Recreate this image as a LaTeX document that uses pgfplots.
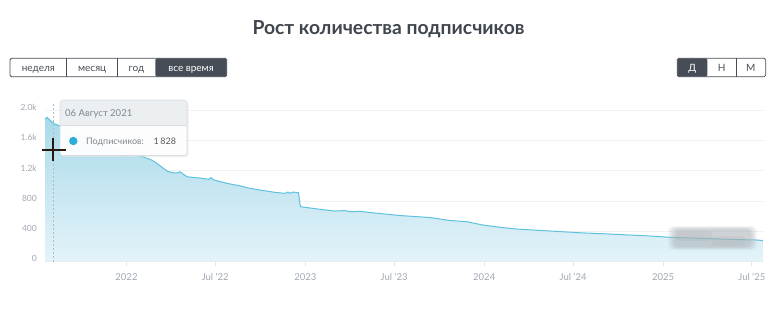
\documentclass[border=0pt]{standalone}
\usepackage{fontspec}
\setmainfont{Lato}
\usepackage{pgfplots}
\usepackage{pgfplotstable}
\pgfplotsset{compat=1.18}
\definecolor{titleC}{HTML}{40464E}
\definecolor{btnDark}{HTML}{474D56}
\definecolor{btnText}{HTML}{4A4F57}
\definecolor{lblC}{HTML}{A2A9B3}
\definecolor{gridC}{HTML}{F1F2F3}
\definecolor{axisC}{HTML}{E3E6E9}
\definecolor{lineC}{HTML}{5EC2DF}
\definecolor{fillTop}{HTML}{A9DAEA}
\definecolor{fillBot}{HTML}{E4F3F9}
\definecolor{ttHead}{HTML}{ECEFF1}
\definecolor{ttBorder}{HTML}{DADDE0}
\definecolor{ttText}{HTML}{80868C}
\definecolor{dotC}{HTML}{2BAED8}
\definecolor{cursorC}{HTML}{2A1710}
\definecolor{blurC}{HTML}{AEB6BA}

\pgfplotstableread{
x y
2021.5444 1882
2021.5556 1905
2021.5724 1869
2021.5892 1828
2021.6283 1790
2021.7121 1700
2021.7960 1610
2021.8798 1520
2021.9637 1455
2022.0475 1410
2022.0922 1384
2022.1409 1341
2022.1705 1297
2022.2040 1235
2022.2320 1190
2022.2599 1173
2022.2879 1173
2022.2991 1186
2022.3382 1120
2022.4108 1103
2022.4612 1086
2022.4723 1110
2022.4891 1077
2022.5618 1033
2022.6344 1001
2022.6903 967
2022.7462 945
2022.8301 914
2022.8860 901
2022.9027 918
2022.9139 901
2022.9307 918
2022.9614 909
2022.9698 760
2022.9737 724
2023.0816 690
2023.1655 667
2023.2214 674
2023.2493 658
2023.3052 663
2023.3890 641
2023.5288 608
2023.6965 581
2023.8083 542
2023.9033 526
2023.9927 482
2024.0878 452
2024.1828 429
2024.3672 403
2024.5349 380
2024.7026 363
2024.8144 350
2024.9262 337
2025.0380 320
2025.2057 306
2025.3734 293
2025.5243 284
2025.5579 277
}\subs

\begin{document}
\begin{tikzpicture}
\useasboundingbox (0pt,0pt) rectangle (779pt,-309pt);
\fill[white] (0pt,0pt) rectangle (779pt,-309pt);

% title
\node[anchor=base, font=\fontsize{19.3}{21}\selectfont\bfseries, text=titleC, inner sep=0pt] at (388.5pt,-34.3pt) {Рост количества подписчиков};

% left buttons
\begin{scope}[font=\fontsize{10}{12}\selectfont]
\draw[btnDark, line width=0.8pt, rounded corners=1.5pt] (10pt,-58.3pt) rectangle (226.7pt,-76.7pt);
\fill[btnDark, rounded corners=1.5pt] (155.3pt,-58.3pt) rectangle (226.7pt,-76.7pt);
\draw[btnDark, line width=0.8pt] (66.7pt,-58.3pt) -- (66.7pt,-76.7pt);
\draw[btnDark, line width=0.8pt] (117.7pt,-58.3pt) -- (117.7pt,-76.7pt);
\node[text=btnText, anchor=base] at (38.3pt,-71pt) {неделя};
\node[text=btnText, anchor=base] at (92.2pt,-71pt) {месяц};
\node[text=btnText, anchor=base] at (136.5pt,-71pt) {год};
\node[text=white, anchor=base] at (191pt,-71pt) {все время};
% right buttons
\draw[btnDark, line width=0.8pt, rounded corners=1.5pt] (677.3pt,-58.3pt) rectangle (765.7pt,-76.7pt);
\fill[btnDark, rounded corners=1.5pt] (677.3pt,-58.3pt) rectangle (707.3pt,-76.7pt);
\draw[btnDark, line width=0.8pt] (736pt,-58.3pt) -- (736pt,-76.7pt);
\node[text=white, anchor=base] at (692.3pt,-71pt) {Д};
\node[text=btnText, anchor=base] at (721.7pt,-71pt) {Н};
\node[text=btnText, anchor=base] at (750.8pt,-71pt) {М};
\end{scope}

\begin{axis}[
  at={(45pt,-261.5pt)}, anchor=south west,
  scale only axis, width=719pt, height=151.3pt,
  xmin=2021.5444, xmax=2025.564, ymin=0, ymax=2000,
  axis x line*=bottom, axis y line*=left,
  x axis line style={axisC, line width=0.9pt, -},
  y axis line style={draw=none},
  xtick={2022,2022.496,2023,2023.496,2024,2024.497,2025,2025.496},
  xticklabels={2022,Jul '22,2023,Jul '23,2024,Jul '24,2025,Jul '25},
  ytick={0,400,800,1200,1600,2000},
  yticklabels={0,400,800,1.2k,1.6k,2.0k},
  xtick align=outside, major tick length=4.5pt,
  xtick style={axisC, line width=0.9pt},
  ytick style={draw=none},
  ymajorgrids, grid style={gridC, line width=0.8pt},
  xticklabel style={font=\fontsize{9.5}{11}\selectfont, text=lblC, anchor=north, yshift=-4pt},
  yticklabel style={font=\fontsize{8.5}{10}\selectfont, text=lblC, anchor=east, inner sep=0pt, xshift=-8pt, yshift=2.8pt},
  /pgf/number format/assume math mode=true,
  clip=false,
]
\addplot[draw=none, top color=fillTop, bottom color=fillBot] table[x=x,y=y] {\subs} \closedcycle;
\addplot[lineC, line width=1pt] table[x=x,y=y] {\subs};
\draw[lblC!80, dash pattern=on 2pt off 2pt, line width=0.6pt] (axis cs:2021.5892,0) -- (axis cs:2021.5892,2080);
\addplot[only marks, mark=*, mark size=1.2pt, mark options={fill=white, draw=lineC, line width=0.4pt}] coordinates {(2021.5892,1828)};
\end{axis}

% blurred redaction (soft layered box)
\foreach \i/\o in {0/0.12,1.5/0.14,3/0.16,4.5/0.18,6/0.2} {
  \fill[blurC, opacity=\o, rounded corners=5pt] (668pt+\i pt,-226pt-\i pt*0.5) rectangle (757pt-\i pt,-250pt+\i pt*0.5);
}
\fill[gray!70, opacity=0.18, rounded corners=4pt] (676pt,-231pt) rectangle (712pt,-241pt);
\fill[gray!70, opacity=0.15, rounded corners=4pt] (712pt,-236pt) rectangle (745pt,-246pt);

% tooltip
\fill[black!12, opacity=0.5, rounded corners=3pt] (61pt,-101pt) rectangle (188.5pt,-157pt);
\fill[white, opacity=0.93, rounded corners=3pt] (60pt,-100pt) rectangle (187pt,-155.5pt);
\fill[ttHead, rounded corners=3pt] (60pt,-100pt) rectangle (187pt,-125pt);
\fill[ttHead] (60pt,-118pt) rectangle (187pt,-125pt);
\draw[ttBorder, line width=0.6pt, rounded corners=3pt] (60pt,-100pt) rectangle (187pt,-155.5pt);
\draw[ttBorder, line width=0.5pt] (60pt,-125pt) -- (187pt,-125pt);
\node[anchor=base west, inner sep=0pt, text=ttText, font=\fontsize{9.5}{11}\selectfont] at (65pt,-116.7pt) {06 Август 2021};
\fill[dotC] (73.3pt,-141pt) circle (4.2pt);
\node[anchor=base west, inner sep=0pt, text=ttText, font=\fontsize{9}{11}\selectfont] at (86pt,-144.3pt) {Подписчиков:};
\node[anchor=base west, inner sep=0pt, text=black!65, font=\fontsize{9}{11}\selectfont] at (153.5pt,-144.3pt) {1\,828};

% cursor
\draw[cursorC, line width=2pt] (41.7pt,-150pt) -- (65.7pt,-150pt);
\draw[cursorC, line width=2pt] (53.3pt,-137.7pt) -- (53.3pt,-161pt);
\end{tikzpicture}
\end{document}
